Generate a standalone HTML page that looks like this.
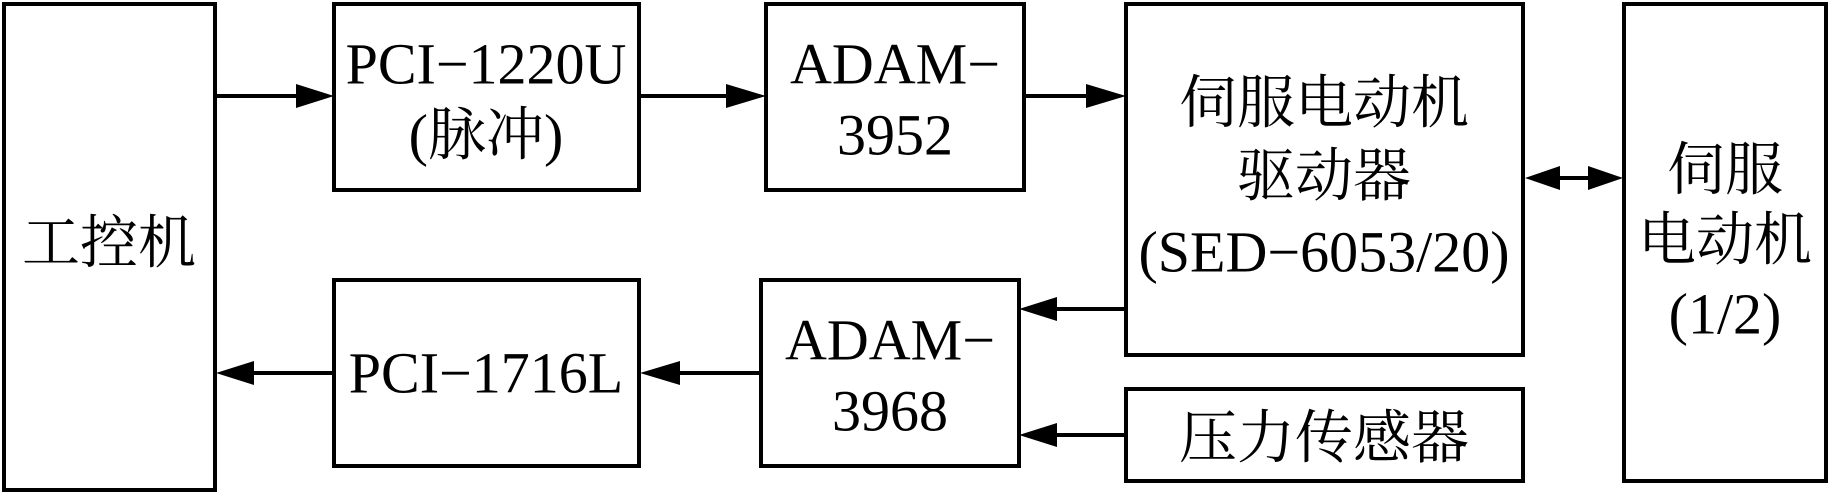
<!DOCTYPE html>
<html><head><meta charset="utf-8"><style>
html,body{margin:0;padding:0;background:#fff;}
svg{display:block;}
text{font-family:"Liberation Serif","Noto Serif CJK SC",serif;font-size:58px;fill:#000;text-anchor:middle;dominant-baseline:central;}
</style></head><body>
<svg width="1832" height="494" viewBox="0 0 1832 494" xmlns="http://www.w3.org/2000/svg">
<g fill="none" stroke="#000" stroke-width="4">
<rect x="4" y="4" width="211" height="486"/>
<rect x="334" y="4" width="305" height="186"/>
<rect x="766" y="4" width="258" height="186"/>
<rect x="334" y="280" width="305" height="186"/>
<rect x="761" y="280" width="258" height="186"/>
<rect x="1126" y="4" width="397" height="351"/>
<rect x="1126" y="389" width="397" height="92"/>
<rect x="1624" y="4" width="202" height="477"/>
<line x1="216" y1="96" x2="300" y2="96"/>
<line x1="640" y1="96" x2="728" y2="96"/>
<line x1="1025" y1="96" x2="1088" y2="96"/>
<line x1="1126" y1="309" x2="1055" y2="309"/>
<line x1="1126" y1="435" x2="1055" y2="435"/>
<line x1="761" y1="373" x2="680" y2="373"/>
<line x1="334" y1="373" x2="250" y2="373"/>
<line x1="1540" y1="178" x2="1608" y2="178"/>
</g>
<g fill="#000">
<polygon points="334,96 296,84 296,108"/>
<polygon points="766,96 726,84 726,108"/>
<polygon points="1126,96 1086,84 1086,108"/>
<polygon points="1019,309 1057,297 1057,321"/>
<polygon points="1019,435 1057,423 1057,447"/>
<polygon points="640,373 680,361 680,385"/>
<polygon points="216,373 254,361 254,385"/>
<polygon points="1525,178 1560,166 1560,190"/>
<polygon points="1623,178 1588,166 1588,190"/>
</g>
<text x="109" y="243">工控机</text>
<text x="486" y="64">PCI−1220U</text>
<text x="486" y="135">(脉冲)</text>
<text x="895" y="64">ADAM−</text>
<text x="895" y="135">3952</text>
<text x="486" y="373">PCI−1716L</text>
<text x="890" y="340">ADAM−</text>
<text x="890" y="411">3968</text>
<text x="1324" y="103">伺服电动机</text>
<text x="1324" y="176">驱动器</text>
<text x="1324" y="252">(SED−6053/20)</text>
<text x="1324" y="438">压力传感器</text>
<text x="1725" y="170">伺服</text>
<text x="1725" y="240">电动机</text>
<text x="1725" y="314">(1/2)</text>
</svg>
</body></html>
